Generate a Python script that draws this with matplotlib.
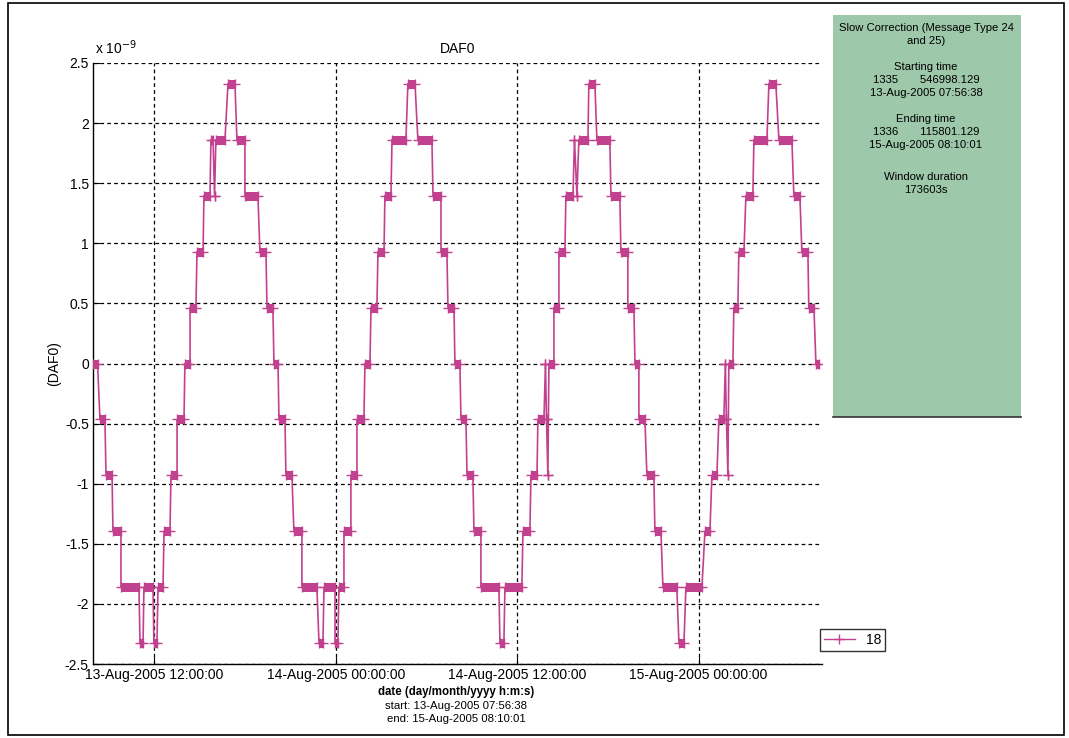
import matplotlib
matplotlib.use("Agg")
import matplotlib.pyplot as plt
import matplotlib.dates as mdates
from matplotlib.patches import Rectangle
import numpy as np
from datetime import datetime

plt.rcParams['font.family'] = ['Liberation Sans', 'DejaVu Sans']

# ---------------- data ----------------
start_time = datetime(2005, 8, 13, 7, 56, 38)
end_time = datetime(2005, 8, 15, 8, 10, 1)
lsb = 2.0 ** -31          # DAF0 resolution (s/s)

# plateaus of the received DAF0 value: level (in LSB units), first and last sample (hours after start)
levels = [0, -1, -2, -3, -4, -5, -4, -5, -4, -3, -2, -1, 0, 1, 2, 3, 4, 3, 4, 5, 4, 3, 2, 1, 0,
          -1, -2, -3, -4, -5, -4, -5, -4, -3, -2, -1, 0, 1, 2, 3, 4, 5, 4, 3, 2, 1, 0,
          -1, -2, -3, -4, -5, -4, -3, -2, -1, 0, -1, -2, 0, 1, 2, 3, 4, 3, 4, 5, 4, 3, 2, 1, 0,
          -1, -2, -3, -4, -5, -4, -3, -2, -1, 0, -1, -2, 0, 1, 2, 3, 4, 5, 4, 3, 2, 1, 0]
t_first = [0.00, 0.46, 0.86, 1.32, 1.85, 3.11, 3.37, 4.03, 4.30, 4.70, 5.16, 5.56, 6.08, 6.42, 6.88, 7.34,
           7.80, 8.04, 8.13, 8.93, 9.52, 10.05, 11.04, 11.51, 11.97,
           12.30, 12.76, 13.29, 13.82, 14.95, 15.28, 16.01, 16.27, 16.60, 17.06, 17.46, 17.99, 18.39,
           18.85, 19.31, 19.78, 20.83, 21.49, 22.49, 23.02, 23.48, 23.94,
           24.34, 24.74, 25.20, 25.66, 26.92, 27.25, 28.44, 28.97, 29.43, 29.93, 30.00, 30.09, 30.16,
           30.49, 30.82, 31.28, 31.85, 32.01, 32.14, 32.80, 33.33, 34.26, 34.92, 35.38, 35.85,
           36.11, 36.64, 37.17, 37.70, 38.76, 39.22, 40.48, 40.94, 41.40, 41.83, 41.90, 42.00, 42.06,
           42.39, 42.72, 43.19, 43.72, 44.71, 45.37, 46.36, 46.89, 47.35, 47.82]
t_last = [0.30, 0.79, 1.26, 1.85, 3.04, 3.31, 3.97, 4.23, 4.63, 5.09, 5.56, 6.02, 6.42, 6.81, 7.28, 7.74,
          7.94, 8.04, 8.73, 9.39, 10.05, 10.91, 11.44, 11.90, 12.24,
          12.70, 13.16, 13.82, 14.81, 15.21, 16.01, 16.20, 16.60, 17.06, 17.46, 17.92, 18.32, 18.78,
          19.25, 19.71, 20.70, 21.30, 22.42, 23.02, 23.41, 23.88, 24.27,
          24.67, 25.13, 25.66, 26.85, 27.18, 28.37, 28.90, 29.37, 29.83, 29.93, 30.00, 30.09, 30.49,
          30.82, 31.22, 31.75, 31.85, 32.01, 32.74, 33.20, 34.19, 34.85, 35.38, 35.78, 36.11,
          36.51, 37.10, 37.57, 38.62, 39.09, 40.28, 40.81, 41.27, 41.73, 41.83, 41.90, 42.00, 42.33,
          42.66, 43.06, 43.65, 44.58, 45.17, 46.23, 46.76, 47.29, 47.69, 48.02]

prn_label = "18"
y_ticks = [-2.5, -2, -1.5, -1, -0.5, 0, 0.5, 1, 1.5, 2, 2.5]
y_tick_labels = ["-2.5", "-2", "-1.5", "-1", "-0.5", "0", "0.5", "1", "1.5", "2", "2.5"]
x_ticks = [datetime(2005, 8, 13, 12), datetime(2005, 8, 14, 0),
           datetime(2005, 8, 14, 12), datetime(2005, 8, 15, 0)]

info_lines = ["Slow Correction (Message Type 24", "and 25)",
              "Starting time", "1335       546998.129", "13-Aug-2005 07:56:38",
              "Ending time", "1336       115801.129", "15-Aug-2005 08:10:01",
              "Window duration", "173603s"]
info_y_px = [28, 41, 67, 80, 93, 119, 132, 145, 177, 190]

# ---------------- figure ----------------
W, H = 1069, 738
fig = plt.figure(figsize=(W / 100, H / 100), dpi=100)
fig.patch.set_facecolor('white')

def fx(px):
    return px / W

def fy(py):
    return 1 - py / H

ax = fig.add_axes([fx(93), fy(664), fx(822) - fx(93), fy(63) - fy(664)])

color = '#C2418F'
t0 = mdates.date2num(start_time)
xs, ys = [], []
for lv, a, b in zip(levels, t_first, t_last):
    xs += [t0 + a / 24, t0 + b / 24]
    ys += [lv * lsb / 1e-9, lv * lsb / 1e-9]
xs = np.array(xs)
ys = np.array(ys)

# dense sample clusters (overlapping markers)
for lv, a, b in zip(levels, t_first, t_last):
    ax.plot([t0 + a / 24, t0 + b / 24], [lv * lsb / 1e-9] * 2, color=color, lw=6.5,
            solid_capstyle='butt', zorder=3)
line, = ax.plot(xs, ys, color=color, lw=1.2, marker='+', ms=7, mew=1.0, zorder=4,
                label=prn_label)

ax.set_xlim(mdates.date2num(start_time), mdates.date2num(end_time))
ax.set_ylim(-2.5, 2.5)
ax.set_yticks(y_ticks)
ax.set_yticklabels(y_tick_labels)
ax.set_xticks([mdates.date2num(d) for d in x_ticks])
ax.xaxis.set_major_formatter(mdates.DateFormatter('%d-%b-%Y %H:%M:%S'))

ax.grid(True, color='black', linestyle=(0, (3, 2.5)), linewidth=0.9)
ax.tick_params(direction='in', length=5, labelsize=10, colors='black', pad=3)
ax.spines['top'].set_visible(False)
ax.spines['right'].set_visible(False)
for s in ('left', 'bottom'):
    ax.spines[s].set_linewidth(1.0)
    ax.spines[s].set_color('black')

ax.set_title('DAF0', fontsize=10, pad=7)
ax.set_ylabel('(DAF0)', fontsize=10, labelpad=3)
fig.text(fx(95), fy(48), r'x 10$^{-9}$', fontsize=10, ha='left', va='center')

fig.text(fx(456), fy(692), 'date (day/month/yyyy h:m:s)', fontsize=8.3, fontweight='bold',
         ha='center', va='center')
fig.text(fx(456), fy(706), 'start: 13-Aug-2005 07:56:38', fontsize=8.2, ha='center', va='center')
fig.text(fx(456), fy(719), 'end: 15-Aug-2005 08:10:01', fontsize=8.2, ha='center', va='center')

# info box
fig.patches.append(Rectangle((fx(833), fy(417)), fx(1021) - fx(833), fy(15) - fy(417),
                             transform=fig.transFigure, facecolor='#9DC8A9',
                             edgecolor='none', zorder=1))
fig.add_artist(plt.Line2D([fx(833), fx(1021)], [fy(417), fy(417)], color='#333333', lw=1.2,
                          transform=fig.transFigure))
for txt, yp in zip(info_lines, info_y_px):
    fig.text(fx(926), fy(yp), txt, fontsize=8.1, ha='center', va='center')

# legend
leg = fig.legend(handles=[line], loc='upper left', bbox_to_anchor=(fx(820), fy(629)),
                 fontsize=10, frameon=True, fancybox=False, edgecolor='black',
                 handlelength=2.2, borderpad=0.3, handletextpad=0.8, borderaxespad=0)
leg.get_frame().set_linewidth(1.0)
leg.legend_handles[0].set_linewidth(1.0)

# outer frame
fig.add_artist(Rectangle((fx(8), fy(735)), fx(1064) - fx(8), fy(3) - fy(735),
                         transform=fig.transFigure, fill=False, edgecolor='black', lw=1.2))

fig.savefig('out.png', dpi=100)
